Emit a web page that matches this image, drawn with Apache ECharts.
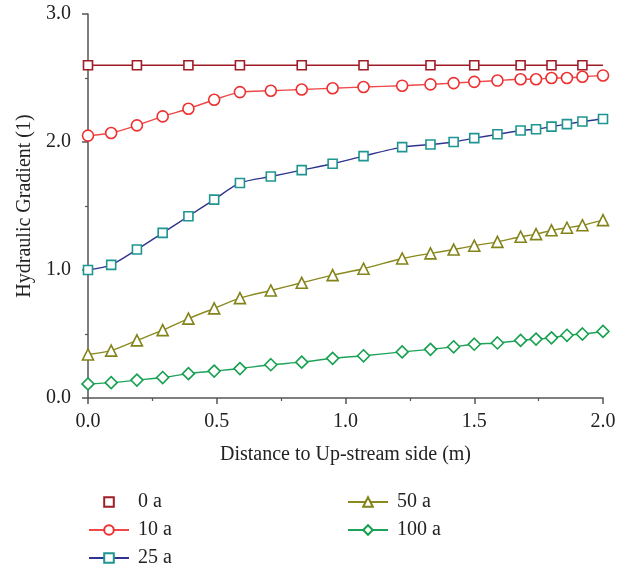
<!DOCTYPE html>
<html>
<head>
<meta charset="utf-8">
<script src="https://cdn.jsdelivr.net/npm/echarts@6/dist/echarts.min.js"></script>
<style>
  html, body { margin: 0; padding: 0; background: #fff; }
  #chart { width: 630px; height: 569px; }
</style>
</head>
<body>
<div id="chart"></div>
<script>
// Distance along the wall (m) where results were sampled
const distance = [0, 0.09, 0.19, 0.29, 0.39, 0.49, 0.59, 0.71, 0.83, 0.95, 1.07,
  1.22, 1.33, 1.42, 1.5, 1.59, 1.68, 1.74, 1.8, 1.86, 1.92, 2.0];
// The 0 a curve was sampled at fewer stations
const distance0 = [0, 0.19, 0.39, 0.59, 0.83, 1.07, 1.33, 1.5, 1.68, 1.8, 1.92, 2.0];

const grad0 = [2.6, 2.6, 2.6, 2.6, 2.6, 2.6, 2.6, 2.6, 2.6, 2.6, 2.6, 2.6];
const grad10 = [2.05, 2.07, 2.13, 2.20, 2.26, 2.33, 2.39, 2.40, 2.41, 2.42, 2.43,
  2.44, 2.45, 2.46, 2.47, 2.48, 2.49, 2.49, 2.50, 2.50, 2.51, 2.52];
const grad25 = [1.0, 1.04, 1.16, 1.29, 1.42, 1.55, 1.68, 1.73, 1.78, 1.83, 1.89,
  1.96, 1.98, 2.00, 2.03, 2.06, 2.09, 2.10, 2.12, 2.14, 2.16, 2.18];
const grad50 = [0.34, 0.37, 0.45, 0.53, 0.62, 0.70, 0.78, 0.84, 0.90, 0.96, 1.01,
  1.09, 1.13, 1.16, 1.19, 1.22, 1.26, 1.28, 1.31, 1.33, 1.35, 1.39];
const grad100 = [0.11, 0.12, 0.14, 0.16, 0.19, 0.21, 0.23, 0.26, 0.28, 0.31, 0.33,
  0.36, 0.38, 0.40, 0.42, 0.43, 0.45, 0.46, 0.47, 0.49, 0.50, 0.52];

const seriesNames = ['0 a', '10 a', '25 a', '50 a', '100 a'];
const xTicks = ['0.0', '0.5', '1.0', '1.5', '2.0'];
const yTicks = ['0.0', '1.0', '2.0', '3.0'];

const FONT = '"Liberation Serif", "DejaVu Serif", serif';
const AXIS_COLOR = '#555';
const TEXT_COLOR = '#222';

function pairs(xs, ys) {
  return xs.map((x, i) => [x, ys[i]]);
}

function makeSeries(name, xs, ys, symbol, size, lineColor, markColor, opts) {
  return Object.assign({
    name: name,
    type: 'line',
    data: pairs(xs, ys),
    symbol: symbol,
    symbolSize: size,
    showAllSymbol: true,
    smooth: 0.25,
    clip: true,
    lineStyle: { color: lineColor, width: 1.4 },
    itemStyle: { color: '#fff', borderColor: markColor, borderWidth: 1.6 },
    emphasis: { disabled: true },
    animation: false,
    z: 3
  }, opts || {});
}

// last station of the 0 a curve carries no marker
const data0 = pairs(distance0, grad0).map((p, i, arr) =>
  i === arr.length - 1 ? { value: p, symbol: 'none' } : p);

const chart = echarts.init(document.getElementById('chart'), null, { renderer: 'canvas' });

const legendCommon = {
  orient: 'vertical',
  itemWidth: 40,
  itemHeight: 12,
  itemGap: 8,
  padding: 0,
  textStyle: { fontFamily: FONT, fontSize: 20, color: TEXT_COLOR, padding: [0, 0, 0, 4] },
  selectedMode: false
};

chart.setOption({
  backgroundColor: '#fff',
  animation: false,
  textStyle: { fontFamily: FONT },
  grid: { left: 88, right: 27, top: 14, bottom: 171, containLabel: false },
  legend: [
    Object.assign({}, legendCommon, {
      left: 88, top: 492,
      data: [
        { name: seriesNames[0], lineStyle: { opacity: 0 } },
        { name: seriesNames[1] },
        { name: seriesNames[2] }
      ]
    }),
    Object.assign({}, legendCommon, {
      left: 347, top: 492,
      data: [{ name: seriesNames[3] }, { name: seriesNames[4] }]
    })
  ],
  xAxis: {
    type: 'value',
    min: 0, max: 2, interval: 0.5,
    name: 'Distance to Up-stream side (m)',
    nameLocation: 'middle',
    nameGap: 47,
    nameTextStyle: { fontFamily: FONT, fontSize: 20, color: TEXT_COLOR },
    axisLine: { show: true, lineStyle: { color: AXIS_COLOR, width: 1.5 } },
    axisTick: { show: true, inside: false, length: 6, lineStyle: { color: AXIS_COLOR, width: 1.5 } },
    minorTick: { show: true, splitNumber: 2, length: 3, lineStyle: { color: AXIS_COLOR, width: 1.2 } },
    splitLine: { show: false },
    axisLabel: {
      margin: 14, fontFamily: FONT, fontSize: 20, color: TEXT_COLOR,
      formatter: v => xTicks[Math.round(v / 0.5)]
    }
  },
  yAxis: {
    type: 'value',
    min: 0, max: 3, interval: 1,
    name: 'Hydraulic Gradient (1)',
    nameLocation: 'middle',
    nameGap: 51,
    nameTextStyle: { fontFamily: FONT, fontSize: 20, color: TEXT_COLOR },
    axisLine: { show: true, lineStyle: { color: AXIS_COLOR, width: 1.5 } },
    axisTick: { show: true, inside: false, length: 6, lineStyle: { color: AXIS_COLOR, width: 1.5 } },
    minorTick: { show: true, splitNumber: 2, length: 3, lineStyle: { color: AXIS_COLOR, width: 1.2 } },
    splitLine: { show: false },
    axisLabel: {
      margin: 17, fontFamily: FONT, fontSize: 20, color: TEXT_COLOR,
      formatter: v => yTicks[Math.round(v)]
    }
  },
  series: [
    makeSeries(seriesNames[0], distance0, grad0, 'rect', 9, '#a01c26', '#a01c26',
      { data: data0, smooth: false }),
    makeSeries(seriesNames[1], distance, grad10, 'circle', 11, '#f04848', '#ee3030'),
    makeSeries(seriesNames[2], distance, grad25, 'rect', 9, '#30348f', '#1e9590'),
    makeSeries(seriesNames[3], distance, grad50, 'triangle', 11, '#8a8a20', '#83831a'),
    makeSeries(seriesNames[4], distance, grad100, 'diamond', 12, '#1ea35a', '#16a050')
  ]
});
</script>
</body>
</html>
